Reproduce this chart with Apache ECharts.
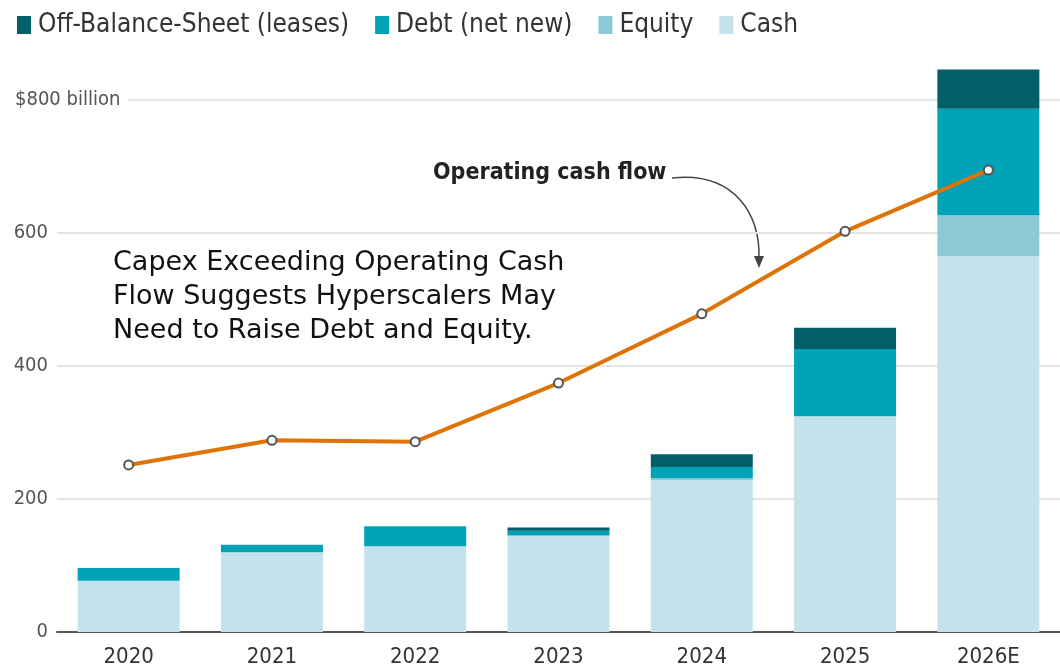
<!DOCTYPE html>
<html>
<head>
<meta charset="utf-8">
<script src="https://cdn.jsdelivr.net/npm/echarts@6/dist/echarts.min.js"></script>
<style>
  html, body { margin: 0; padding: 0; background: #fff; }
  #chart { width: 1060px; height: 671px; }
</style>
</head>
<body>
<div id="chart"></div>
<script>
  // values in $ billion
  const years = ['2020', '2021', '2022', '2023', '2024', '2025', '2026E']
  const cash = [77, 120, 129, 145, 228, 324, 565]
  const equity = [0, 0, 0, 0, 3, 0, 61]
  const debt = [19, 11, 30, 7, 17, 101, 160]
  const leases = [0, 0, 0, 5, 19, 32, 59]
  const opCashFlow = [251, 288, 286, 374, 478, 602, 694]
  const yTicks = [0, 200, 400, 600, 800]

  const narrow = '"Liberation Sans Narrow", "DejaVu Sans Condensed", sans-serif'

  const chart = echarts.init(document.getElementById('chart'))

  function barSeries(name, data, color) {
    return {
      name: name,
      type: 'bar',
      stack: 'capex',
      data: data,
      barWidth: 102,
      clip: false,
      itemStyle: { color: color },
      emphasis: { disabled: true }
    }
  }

  chart.setOption({
    animation: false,
    legend: {
      data: ['Off-Balance-Sheet (leases)', 'Debt (net new)', 'Equity', 'Cash'],
      left: 12,
      top: 7,
      icon: 'rect',
      itemWidth: 14,
      itemHeight: 18,
      itemGap: 26,
      textStyle: { fontFamily: narrow, fontSize: 26, color: '#333', padding: [0, 0, 0, 2] }
    },
    grid: { left: 57, right: 0, top: 99.5, bottom: 39 },
    xAxis: {
      type: 'category',
      data: years,
      axisTick: { show: false },
      axisLine: { lineStyle: { color: '#555', width: 2 } },
      axisLabel: { fontFamily: narrow, fontSize: 22, color: '#333', margin: 14 }
    },
    yAxis: {
      type: 'value',
      min: 0,
      max: 800,
      interval: 200,
      axisLine: { show: false },
      axisTick: { show: false },
      splitLine: { lineStyle: { color: '#e4e4e4', width: 2 } },
      axisLabel: {
        align: 'left',
        margin: 42,
        fontFamily: narrow,
        fontSize: 20,
        color: '#555',
        backgroundColor: '#fff',
        padding: [2, 8, 2, 0],
        formatter: function (v) {
          if (yTicks.indexOf(v) < 0) return ''
          return v === 800 ? '{b|$800 billion}' : '{n|' + v + '}'
        },
        rich: {
          b: { fontFamily: narrow, fontSize: 20, color: '#555' },
          n: { fontFamily: narrow, fontSize: 20, color: '#555', width: 33, align: 'right' }
        }
      }
    },
    series: [
      barSeries('Cash', cash, '#c3e2ec'),
      barSeries('Equity', equity, '#8cc9d7'),
      barSeries('Debt (net new)', debt, '#00a2b8'),
      barSeries('Off-Balance-Sheet (leases)', leases, '#005f68'),
      {
        name: 'Operating cash flow',
        type: 'line',
        data: opCashFlow,
        symbol: 'circle',
        symbolSize: 9,
        z: 5,
        lineStyle: { color: '#de7308', width: 4 },
        itemStyle: { color: '#fff', borderColor: '#555', borderWidth: 2 },
        emphasis: { disabled: true }
      }
    ],
    graphic: [
      {
        type: 'text',
        left: 433,
        top: 162,
        style: {
          text: 'Operating cash flow',
          fontFamily: narrow,
          fontWeight: 'bold',
          fontSize: 23,
          fill: '#222'
        }
      },
      {
        type: 'bezierCurve',
        shape: { x1: 672, y1: 178, cpx1: 735, cpy1: 171, cpx2: 760, cpy2: 215, x2: 759, y2: 258 },
        style: { stroke: '#444', lineWidth: 1.5, fill: null }
      },
      {
        type: 'polygon',
        shape: { points: [[754, 256], [764, 256], [759, 268]] },
        style: { fill: '#444' }
      },
      {
        type: 'text',
        left: 113,
        top: 246,
        style: {
          text: 'Capex Exceeding Operating Cash\nFlow Suggests Hyperscalers May\nNeed to Raise Debt and Equity.',
          fontFamily: '"DejaVu Sans", sans-serif',
          fontSize: 27,
          lineHeight: 34,
          fill: '#111'
        }
      }
    ]
  })
</script>
</body>
</html>
